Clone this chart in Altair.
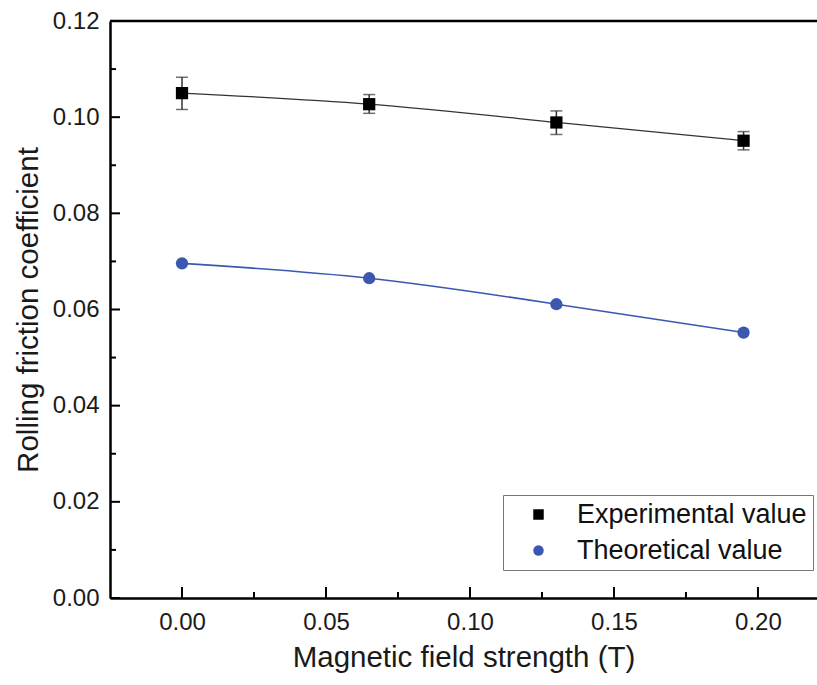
import altair as alt
import pandas as pd

# ---- data ----
field_T = [0.0, 0.065, 0.13, 0.195]
exp_vals = [0.1050, 0.1027, 0.0989, 0.0951]
exp_hi = [0.1083, 0.1047, 0.1013, 0.0970]
exp_lo = [0.1016, 0.1008, 0.0964, 0.0932]
theo_vals = [0.0696, 0.0665, 0.0611, 0.0552]
series_names = ["Experimental value", "Theoretical value"]

x_major = [0.0, 0.05, 0.10, 0.15, 0.20]
x_minor = [0.025, 0.075, 0.125, 0.175]
y_major = [0.0, 0.02, 0.04, 0.06, 0.08, 0.10, 0.12]
y_minor = [0.01, 0.03, 0.05, 0.07, 0.09, 0.11]
y_top = [0.12]

# ---- styling ----
FONT = "Liberation Sans"
BLUE = "#3B58B0"
W, H = 707, 577

pts = pd.DataFrame({
    "x": field_T * 2,
    "y": exp_vals + theo_vals,
    "series": [series_names[0]] * 4 + [series_names[1]] * 4,
})
err = pd.DataFrame({"x": field_T, "lo": exp_lo, "hi": exp_hi})
exp_df = pd.DataFrame({"x": field_T, "y": exp_vals})
theo_df = pd.DataFrame({"x": field_T, "y": theo_vals})

xscale = alt.Scale(domain=[-0.025, 0.2205], nice=False, zero=False)
yscale = alt.Scale(domain=[0, 0.12], nice=False)

xaxis = alt.Axis(
    values=x_major, format=".2f", ticks=False, grid=False,
    domainColor="black", domainWidth=2.5,
    labelFont=FONT, labelFontSize=24, labelColor="#1a1a1a", labelPadding=12,
    title="Magnetic field strength (T)", titleFont=FONT, titleFontSize=29.5,
    titleFontWeight="normal", titleColor="#1a1a1a", titlePadding=9,
)
yaxis = alt.Axis(
    values=y_major, format=".2f", ticks=False, grid=False,
    domainColor="black", domainWidth=2.5,
    labelFont=FONT, labelFontSize=24, labelColor="#1a1a1a", labelPadding=11,
    title="Rolling friction coefficient", titleFont=FONT, titleFontSize=29.5,
    titleFontWeight="normal", titleColor="#1a1a1a", titlePadding=9,
)


def X(field):
    return alt.X(field, type="quantitative", scale=xscale, axis=xaxis)


def Y(field):
    return alt.Y(field, type="quantitative", scale=yscale, axis=yaxis)


line_exp = alt.Chart(exp_df).mark_line(
    interpolate="natural", color="#333333", strokeWidth=1.3
).encode(x=X("x"), y=Y("y"))

line_theo = alt.Chart(theo_df).mark_line(
    interpolate="natural", color=BLUE, strokeWidth=1.6
).encode(x=X("x"), y=Y("y"))

err_rule = alt.Chart(err).mark_rule(color="#333333", strokeWidth=1.5).encode(
    x=X("x"), y=Y("lo"), y2="hi"
)
err_lo = alt.Chart(err).mark_tick(
    orient="horizontal", size=12, thickness=1.5, color="#333333"
).encode(x=X("x"), y=Y("lo"))
err_hi = alt.Chart(err).mark_tick(
    orient="horizontal", size=12, thickness=1.5, color="#333333"
).encode(x=X("x"), y=Y("hi"))

points = alt.Chart(pts).mark_point(filled=True, size=150, opacity=1).encode(
    x=X("x"),
    y=Y("y"),
    color=alt.Color(
        "series:N",
        scale=alt.Scale(domain=series_names, range=["#000000", BLUE]),
        title=None,
        legend=alt.Legend(
            orient="none", legendX=393, legendY=474,
            fillColor="white", strokeColor="#777777", padding=6,
            labelFont=FONT, labelFontSize=27, labelColor="#111111",
            labelLimit=400, labelOffset=25, symbolOffset=16,
            symbolSize=110, symbolStrokeWidth=0, rowPadding=8,
        ),
    ),
    shape=alt.Shape(
        "series:N",
        scale=alt.Scale(domain=series_names, range=["square", "circle"]),
        title=None,
    ),
)

ymaj_df = pd.DataFrame({"v": y_major})
ymin_df = pd.DataFrame({"v": y_minor})
xmaj_df = pd.DataFrame({"v": x_major})
xmin_df = pd.DataFrame({"v": x_minor})
top_df = pd.DataFrame({"v": y_top})

ytick_major = alt.Chart(ymaj_df).mark_rule(color="black", strokeWidth=2).encode(
    y=Y("v"), x=alt.value(0), x2=alt.value(10)
)
ytick_minor = alt.Chart(ymin_df).mark_rule(color="black", strokeWidth=2).encode(
    y=Y("v"), x=alt.value(0), x2=alt.value(6)
)
xtick_major = alt.Chart(xmaj_df).mark_rule(color="black", strokeWidth=2).encode(
    x=X("v"), y=alt.value(H), y2=alt.value(H - 11)
)
xtick_minor = alt.Chart(xmin_df).mark_rule(color="black", strokeWidth=2).encode(
    x=X("v"), y=alt.value(H), y2=alt.value(H - 6)
)
top_frame = alt.Chart(top_df).mark_rule(color="black", strokeWidth=2.5).encode(
    y=Y("v")
)

chart = alt.layer(
    top_frame, ytick_major, ytick_minor, xtick_major, xtick_minor,
    line_exp, line_theo, err_rule, err_lo, err_hi, points,
).properties(
    width=W, height=H,
    autosize=alt.AutoSizeParams(type="none"),
    padding={"left": 110, "top": 21, "right": 0, "bottom": 87},
    background="white",
).configure_view(strokeWidth=0)

chart.save("out.html", embed_options={"renderer": "svg", "actions": False})
